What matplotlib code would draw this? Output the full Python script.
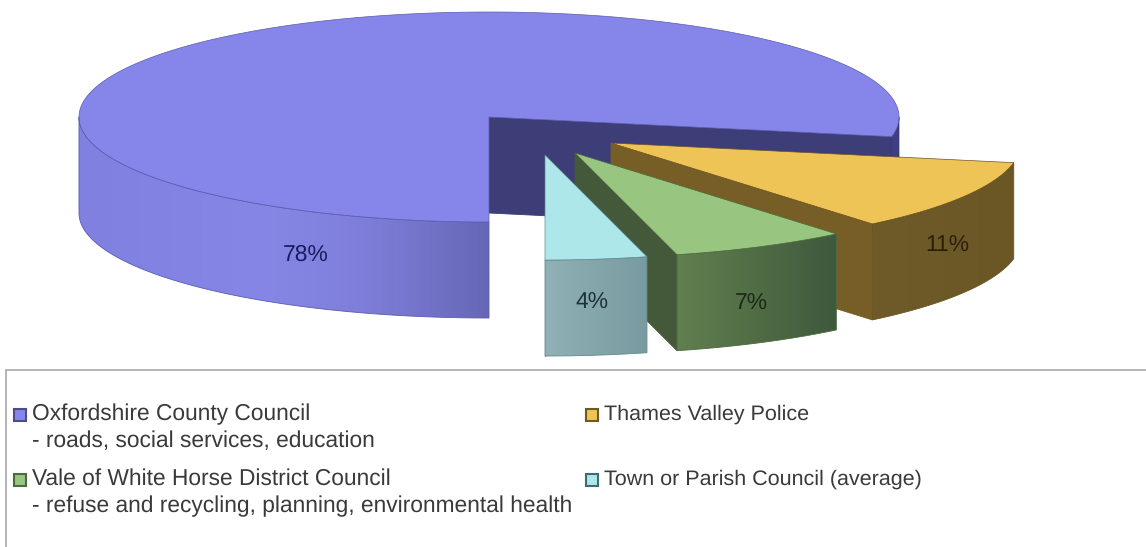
import numpy as np
import matplotlib
matplotlib.use("Agg")
import matplotlib.pyplot as plt
from matplotlib.colors import LinearSegmentedColormap
from matplotlib.patches import Polygon

plt.rcParams['font.family'] = ['Liberation Sans', 'DejaVu Sans']
plt.rcParams['text.hinting'] = 'no_hinting'

# Share of the council tax bill
categories = ["Oxfordshire County Council", "Thames Valley Police",
              "Vale of White Horse District Council", "Town or Parish Council (average)"]
subtitles = ["- roads, social services, education", "",
             "- refuse and recycling, planning, environmental health", ""]
values = [78, 11, 7, 4]
labels = ["78%", "11%", "7%", "4%"]

# Drawing-space geometry of the tilted disc (pixels, y pointing down)
RX, RY, DEPTH = 410, 105, 96
centres = [(489, 117), (611, 143), (575, 153), (545, 155)]
label_pos = [(306, 255), (947, 246), (751, 304), (592, 303)]
label_col = ["#1b1b5e", "#2a2008", "#1c2a16", "#1d3236"]

top_col = ["#8686EA", "#EFC456", "#98C580", "#AEE7EA"]
edge_col = ["#5a5ab0", "#6b5420", "#4d6a3e", "#5f8a90"]
inner_col = ["#3D3D78", "#765E26", "#44593A", "#7a9ba0"]
outer_stops = [
    [(0.0, "#8080E0"), (0.45, "#8686E6"), (0.7, "#7E7EDA"), (1.0, "#6767B6")],
    [(0.0, "#6F5A2A"), (1.0, "#6B5626")],
    [(0.0, "#61804F"), (1.0, "#3E593C")],
    [(0.0, "#90B2B6"), (1.0, "#789AA0")],
]

fig = plt.figure(figsize=(11.46, 5.47), dpi=100, facecolor="white")
ax = fig.add_axes([0, 0, 1, 1])
ax.set_axis_off()


def rim(c, a0, a1, drop=0, n=200):
    t = np.radians(np.linspace(a0, a1, n))
    return np.column_stack([c[0] + RX * np.cos(t), c[1] + RY * np.sin(t) + drop])


def shaded(poly, stops, z):
    """Fill a polygon with a horizontal colour gradient."""
    cmap = LinearSegmentedColormap.from_list("wall", stops)
    x0, x1 = poly[:, 0].min(), poly[:, 0].max()
    y0, y1 = poly[:, 1].min(), poly[:, 1].max()
    grad = np.linspace(0, 1, 256)[None, :]
    im = ax.imshow(grad, cmap=cmap, extent=[x0, x1, y1, y0], aspect="auto", zorder=z)
    im.set_clip_path(Polygon(poly, closed=True, transform=ax.transData))


def wall(c, a0, a1):
    upper = rim(c, a0, a1)
    lower = rim(c, a0, a1, DEPTH)
    return np.vstack([upper, lower[::-1]])


angle = 90.0
z = 1
for i, v in enumerate(values):
    c = centres[i]
    a0, a1 = angle, angle + v * 3.6
    angle = a1
    end = rim(c, a1, a1, n=1)[0]
    top = np.vstack([[c], rim(c, a0, a1)])

    # Flat cut face running from the centre to the far end of the arc
    cut = np.array([c, end, end + [0, DEPTH], (c[0], c[1] + DEPTH)])
    ax.add_patch(Polygon(cut, closed=True, fc=inner_col[i], ec=inner_col[i], lw=0.6, zorder=z))
    z += 1

    # Curved outer wall, only the part that faces the viewer
    if i == 0:
        shaded(wall(c, a0, 180), outer_stops[0], z)
        ax.add_patch(Polygon(wall(c, a0, 180), closed=True, fc="none", ec=edge_col[0], lw=0.6, zorder=z))
        back = wall(c, 360, a1)
        ax.add_patch(Polygon(back, closed=True, fc="#3E3E84", ec="#34346e", lw=0.5, zorder=z))
    else:
        shaded(wall(c, a1, a0), outer_stops[i], z)
        ax.add_patch(Polygon(wall(c, a1, a0), closed=True, fc="none", ec=edge_col[i], lw=0.6, zorder=z))
    z += 1

    ax.add_patch(Polygon(top, closed=True, fc=top_col[i], ec=edge_col[i], lw=0.5, zorder=z))
    z += 1

for i, lab in enumerate(labels):
    ax.text(*label_pos[i], lab, ha="center", va="center", fontsize=16.5,
            color=label_col[i], zorder=50)

# Legend frame: open on the right and below
FRAME = "#a8a8a8"
ax.plot([1146, 6, 6], [370, 370, 547], color=FRAME, lw=1.2, zorder=40, solid_joinstyle="miter")

cells = [(20, 415), (592, 415), (20, 480), (592, 480)]
legend_size = [16.4, 15.45, 16.4, 15.45]
swatch_edge = ["#4c4c8c", "#6b5a22", "#4d6a3e", "#3f6a70"]
for i, name in enumerate(categories):
    x, y = cells[i]
    ax.plot([x], [y], marker="s", ms=8, mfc=top_col[i], mec=swatch_edge[i], mew=1.5, zorder=45)
    ax.text(x + 12, y - 1, name, ha="left", va="center", fontsize=legend_size[i],
            color="#3a3a3a", zorder=45)
    if subtitles[i]:
        ax.text(x + 12, y + 26, subtitles[i], ha="left", va="center", fontsize=legend_size[i],
                color="#3a3a3a", zorder=45)

ax.set_xlim(0, 1146)
ax.set_ylim(547, 0)
fig.savefig("out.png", dpi=100, facecolor="white")
